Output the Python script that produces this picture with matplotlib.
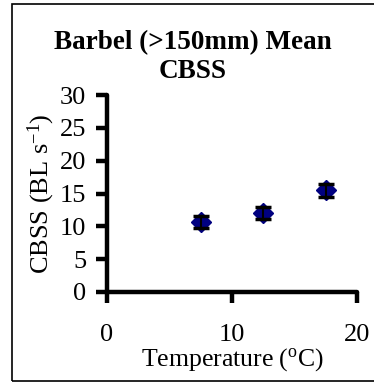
import matplotlib
matplotlib.use("Agg")
import matplotlib.pyplot as plt
from matplotlib.patches import Rectangle

temps = [7.5, 12.5, 17.5]
cbss = [10.7, 12.0, 15.5]
err = [0.9, 0.9, 1.0]
xticks = [0, 10, 20]
yticks = [0, 5, 10, 15, 20, 25, 30]

plt.rcParams['font.family'] = ['Liberation Serif', 'DejaVu Serif']
plt.rcParams['mathtext.fontset'] = 'custom'
plt.rcParams['mathtext.rm'] = 'Liberation Serif'
plt.rcParams['mathtext.it'] = 'Liberation Serif:italic'

W, H = 374, 383
fig = plt.figure(figsize=(W/100, H/100), dpi=100)
fig.patches.append(Rectangle((12/W, 1-381/H), (400-12)/W, (381-4)/H, transform=fig.transFigure,
                             fill=False, edgecolor='black', linewidth=1.2, clip_on=False))

ax = fig.add_axes([107/W, 1-292/H, (357-107)/W, (292-95)/H])
ax.plot(temps, cbss, linestyle='none', marker='D', color='#000080', markersize=10, zorder=2)
ax.errorbar(temps, cbss, yerr=err, fmt='none', ecolor='black', elinewidth=1.5,
            capsize=5.5, capthick=2.5, zorder=3)
ax.set_xlim(0, 20)
ax.set_ylim(0, 30)
ax.set_xticks(xticks)
ax.set_yticks(yticks)
for s in ['top', 'right']:
    ax.spines[s].set_visible(False)
for s in ['left', 'bottom']:
    ax.spines[s].set_linewidth(3.2)
    ax.spines[s].set_capstyle('round')
ax.tick_params(axis='y', direction='out', length=8, width=3.2, labelsize=19, pad=7)
ax.tick_params(axis='x', direction='out', length=8, width=3.2, labelsize=19, pad=15)
for t in ax.xaxis.get_major_ticks() + ax.yaxis.get_major_ticks():
    t.tick1line.set_solid_capstyle('round')
    t.tick1line.set_dash_capstyle('round')
ax.set_xlabel('Temperature ($^{\\mathrm{o}}$C)', fontsize=18.5, labelpad=0)
ax.set_ylabel('CBSS (BL s$^{\\mathrm{-1}}$)', fontsize=19, labelpad=2)
fig.text(193/W, 1-57/H, 'Barbel (>150mm) Mean\nCBSS', ha='center', va='center',
         fontsize=19.5, fontweight='bold', linespacing=1.2)

fig.savefig('out.png', dpi=100)
